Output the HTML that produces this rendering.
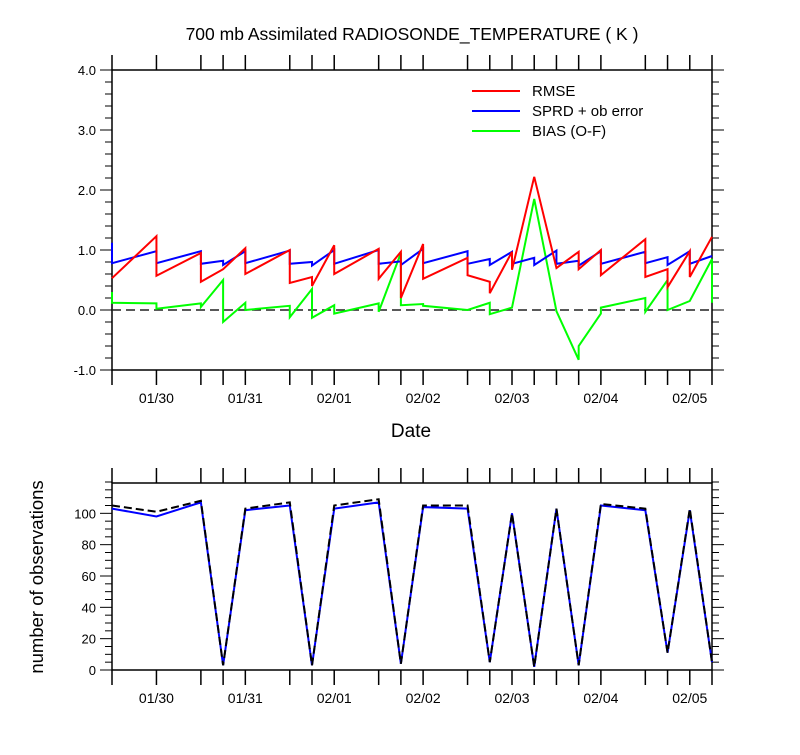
<!DOCTYPE html>
<html><head><meta charset="utf-8"><style>
body{margin:0;background:#fff}
svg text{font-family:"Liberation Sans",Arial,sans-serif;fill:#000}
</style></head><body>
<svg id="c" width="800" height="750" xmlns="http://www.w3.org/2000/svg">
<text x="412" y="40" font-size="17.5" text-anchor="middle">700 mb Assimilated RADIOSONDE_TEMPERATURE ( K )</text>
<text x="411" y="437" font-size="19" text-anchor="middle">Date</text>
<text transform="translate(43,577) rotate(-90)" font-size="18.5" text-anchor="middle">number of observations</text>
<g>
<line x1="472" y1="91" x2="520" y2="91" stroke="#f00" stroke-width="2"/><text x="532" y="96" font-size="15">RMSE</text>
<line x1="472" y1="111" x2="520" y2="111" stroke="#00f" stroke-width="2"/><text x="532" y="116" font-size="15">SPRD + ob error</text>
<line x1="472" y1="131" x2="520" y2="131" stroke="#0f0" stroke-width="2"/><text x="532" y="136" font-size="15">BIAS (O-F)</text>
</g>
</svg>
<script>
// time index in 6-hour steps from 01/29 12Z
const tickSteps=[0,2,4,5,6,8,9,10,12,13,14,16,17,18,19,20,21,22,24,25,26,27];
const dateLabels=["01/30","01/31","02/01","02/02","02/03","02/04","02/05"];
const dateSteps=[2,6,10,14,18,22,26];
const rmseT=[0,2,2,4,4,5,6,6,8,8,9,9,10,10,12,12,13,13,14,14,16,16,17,17,18,18,19,20,21,21,22,22,24,24,25,25,26,26,27];
const rmse=[0.53,1.23,0.57,0.95,0.47,0.68,1.03,0.6,1.0,0.45,0.55,0.4,1.08,0.6,1.02,0.52,0.97,0.2,1.1,0.52,0.87,0.58,0.47,0.28,0.97,0.67,2.22,0.7,0.97,0.68,1.0,0.58,1.18,0.55,0.68,0.38,0.98,0.55,1.22];
const sprdT=[0,0,2,2,4,4,5,5,6,6,8,8,9,9,10,10,12,12,13,13,14,14,16,16,17,17,18,18,19,19,20,20,21,21,22,22,24,24,25,25,26,26,27];
const sprd=[1.12,0.78,0.98,0.78,0.98,0.77,0.82,0.75,0.98,0.78,0.99,0.77,0.8,0.74,1.0,0.77,1.0,0.77,0.81,0.75,1.02,0.78,0.98,0.77,0.85,0.75,0.97,0.77,0.87,0.75,0.99,0.77,0.82,0.74,0.98,0.77,0.97,0.78,0.88,0.75,0.98,0.77,0.9];
const biasT=[0,0,2,2,4,4,5,5,6,6,8,8,9,9,10,10,12,12,13,13,14,14,16,17,17,18,19,20,21,21,22,22,24,24,25,25,26,27,27];
const bias=[0.3,0.12,0.11,0.02,0.11,0.05,0.5,-0.2,0.12,0.0,0.07,-0.12,0.35,-0.13,0.08,-0.06,0.11,-0.03,0.95,0.08,0.1,0.07,0.0,0.12,-0.07,0.04,1.85,-0.02,-0.83,-0.6,-0.06,0.04,0.2,-0.03,0.5,0.0,0.15,0.85,0.12];
const obsT=[0,2,4,5,6,8,9,10,12,13,14,16,17,18,19,20,21,22,24,25,26,27];
const obsUsed=[103,98,107,3,102,105,3,103,107,4,104,103,5,100,2,103,3,105,102,11,102,5];
const obsTotal=[105,101,108,3,103,107,3,105,109,4,105,105,5,100,2,103,3,106,103,11,103,5];
const yTop=[-1,0,1,2,3,4], yBot=[0,20,40,60,80,100];

const svg=document.getElementById('c');const NS='http://www.w3.org/2000/svg';
const X0=112,X1=712,NT=27;
const sx=t=>X0+(X1-X0)*t/NT;
const syT=v=>310-60*v;
const syB=v=>670-1.5667*v;
function el(tag,attrs,parent){const e=document.createElementNS(NS,tag);for(const k in attrs)e.setAttribute(k,attrs[k]);(parent||svg).appendChild(e);return e;}
function panel(name,yt,yb,ticks,minStep,maxV,minV,fmt,sy){
  const g=el('g',{});
  
  
  el('rect',{x:X0,y:yt,width:X1-X0,height:yb-yt,fill:'none',stroke:'#000','stroke-width':1.5},g);
  tickSteps.forEach(t=>{const x=sx(t);
    el('line',{x1:x,x2:x,y1:yt,y2:yt-15,stroke:'#000','stroke-width':1.5},g);
    el('line',{x1:x,x2:x,y1:yb,y2:yb+15,stroke:'#000','stroke-width':1.5},g);});
  dateSteps.forEach((t,i)=>{const tx=el('text',{x:sx(t),y:yb+33,'font-size':14,'text-anchor':'middle'},g);tx.textContent=dateLabels[i];
    
    });
  for(let v=minV;v<=maxV+1e-6;v+=minStep){const y=sy(v);const maj=ticks.some(m=>Math.abs(m-v)<1e-6);const L=maj?12:7;
    el('line',{x1:X0,x2:X0-L,y1:y,y2:y,stroke:'#000','stroke-width':1},g);
    el('line',{x1:X1,x2:X1+L,y1:y,y2:y,stroke:'#000','stroke-width':1},g);}
  ticks.forEach(v=>{const tx=el('text',{x:X0-16,y:sy(v)+5,'font-size':13,'text-anchor':'end'},g);tx.textContent=fmt(v);
    
    });
}
panel('top-panel',70,370,yTop,0.2,4,-1,v=>v.toFixed(1),syT);
panel('bottom-panel',483,670,yBot,5,120,0,v=>String(v),syB);
const zl=el('line',{x1:X0,x2:X1,y1:syT(0),y2:syT(0),stroke:'#222','stroke-width':1.5,'stroke-dasharray':'9,5'});


function series(name,T,V,sy,color,dash){
  const p=el('polyline',{points:T.map((t,i)=>sx(t)+','+sy(V[i])).join(' '),fill:'none',stroke:color,'stroke-width':2,'stroke-linejoin':'miter'});
  if(dash)p.setAttribute('stroke-dasharray',dash);
  
  
}
series('bias-line',biasT,bias,syT,'#0f0');
series('sprd-line',sprdT,sprd,syT,'#00f');
series('rmse-line',rmseT,rmse,syT,'#f00');
series('obs-used-line',obsT,obsUsed,syB,'#00f');
series('obs-total-line',obsT,obsTotal,syB,'#000','8,4');
</script>
</body></html>
